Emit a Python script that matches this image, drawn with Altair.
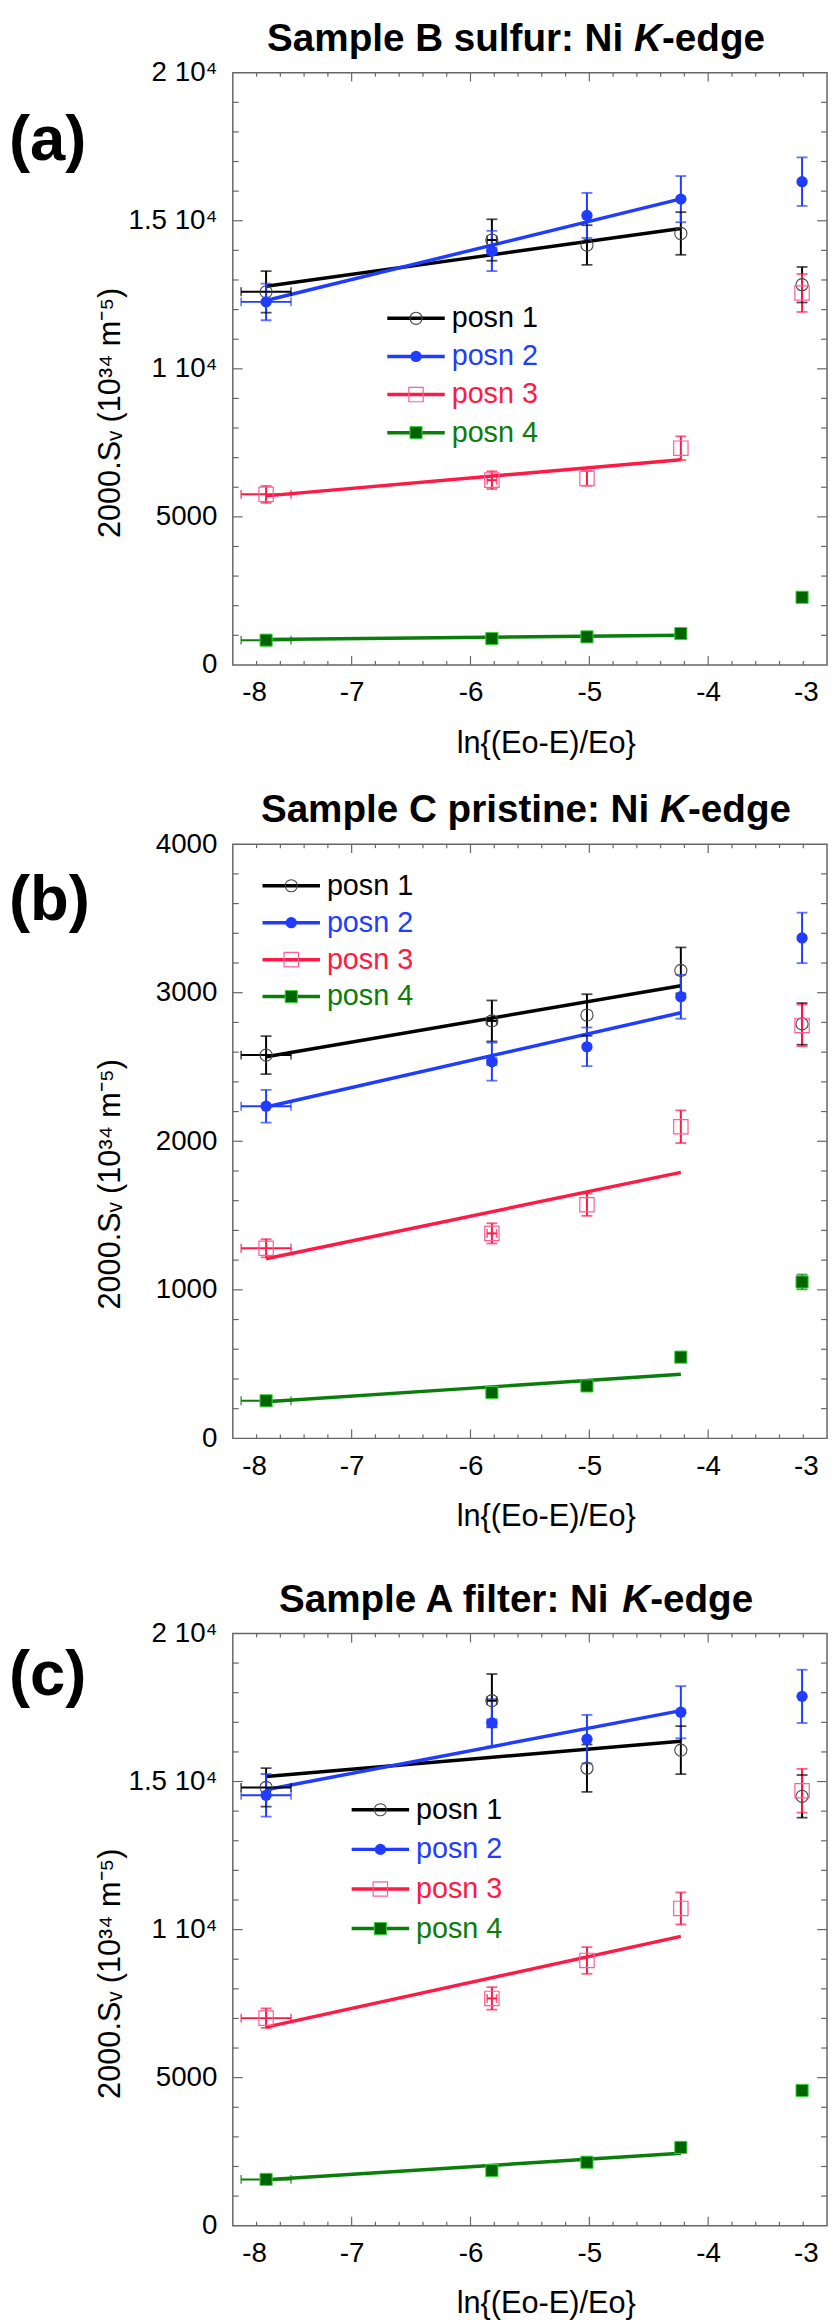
import altair as alt
import pandas as pd

FONT = "Liberation Sans"
SERIES = ["posn 1", "posn 2", "posn 3", "posn 4"]

# x positions of the five measurements, ln{(Eo-E)/Eo}
X = [-7.72, -5.82, -5.02, -4.23, -3.21]
XERR = [0.21, 0.04, 0.0, 0.0, 0.0]
FIT_X = [-7.72, -4.23]

# ---- (a) Sample B sulfur
A_POSN1 = [12600, 14350, 14180, 14570, 12840]
A_POSN1_ERR = [700, 700, 670, 720, 600]
A_POSN2 = [12260, 13980, 15180, 15730, 16320]
A_POSN2_ERR = [620, 680, 760, 780, 820]
A_POSN3 = [5760, 6240, 6300, 7320, 12560]
A_POSN3_ERR = [290, 300, 250, 400, 640]
A_POSN4 = [836, 892, 947, 1060, 2284]
A_POSN4_ERR = [40, 45, 45, 50, 110]
A_FIT_POSN1 = [12785, 14737]
A_FIT_POSN2 = [12306, 15739]
A_FIT_POSN3 = [5708, 6932]
A_FIT_POSN4 = [860, 1003]

# ---- (b) Sample C pristine
B_POSN1 = [2580, 2810, 2850, 3150, 2790]
B_POSN1_ERR = [128, 138, 140, 155, 140]
B_POSN2 = [2236, 2536, 2636, 2973, 3369]
B_POSN2_ERR = [110, 128, 130, 148, 170]
B_POSN3 = [1280, 1380, 1573, 2098, 2780]
B_POSN3_ERR = [62, 68, 75, 110, 140]
B_POSN4 = [253, 309, 353, 547, 1053]
B_POSN4_ERR = [13, 15, 17, 27, 50]
B_FIT_POSN1 = [2569, 3047]
B_FIT_POSN2 = [2231, 2865]
B_FIT_POSN3 = [1209, 1791]
B_FIT_POSN4 = [247, 431]

# ---- (c) Sample A filter
C_POSN1 = [14800, 17730, 15450, 16060, 14500]
C_POSN1_ERR = [650, 900, 800, 810, 720]
C_POSN2 = [14535, 16984, 16430, 17341, 17876]
C_POSN2_ERR = [720, 800, 820, 880, 900]
C_POSN3 = [7010, 7676, 8958, 10715, 14690]
C_POSN3_ERR = [330, 380, 450, 540, 740]
C_POSN4 = [1564, 1865, 2144, 2645, 4570]
C_POSN4_ERR = [75, 90, 105, 130, 130]
C_FIT_POSN1 = [15170, 16360]
C_FIT_POSN2 = [14724, 17396]
C_FIT_POSN3 = [6708, 9770]
C_FIT_POSN4 = [1553, 2445]

# ---- axes / ticks
X_TICK_LABELS = [-8, -7, -6, -5, -4, -3]
X_MAJOR = [-7, -6, -5, -4]
X_MINOR = [round(-8 + 0.2 * k, 1) for k in range(1, 25) if k % 5]
A_Y_LABELS = [0, 5000, 10000, 15000, 20000]
A_Y_MAJOR = [5000, 10000, 15000]
A_Y_MINOR = [v for v in range(1000, 20000, 1000) if v % 5000]
B_Y_LABELS = [0, 1000, 2000, 3000, 4000]
B_Y_MAJOR = [1000, 2000, 3000]
B_Y_MINOR = [v for v in range(200, 4000, 200) if v % 1000]

SCI_EXPR = "datum.value == 0 ? '0' : datum.value == 5000 ? '5000' : (datum.value / 10000) + ' 10\u2074'"
PLAIN_EXPR = "'' + datum.value"

X_TITLE = "ln{(Eo-E)/Eo}"
Y_TITLE = "2000.S\u1d65 (10\u00b3\u2074 m\u207b\u2075)"

LINE_COLORS = ["#000000", "#1f3cff", "#ff1a45", "#0a7d0a"]
TICK_COLOR = "#666666"

MARKER_STYLES = [
    dict(shape="circle", filled=False, size=150, strokeWidth=1.1, color="#444444"),
    dict(shape="circle", filled=True, size=130, color="#1f3cff"),
    dict(shape="square", filled=False, size=210, strokeWidth=1.2, color="#ff5c9a"),
    dict(shape="square", filled=True, size=150, fill="#006400", stroke="#3ad13a", strokeWidth=1),
]

# Arial/Liberation Sans Bold advance widths (per 1000 em) for title layout
BOLD_W = {' ': 278, 'S': 667, 'a': 556, 'm': 889, 'p': 611, 'l': 278, 'e': 556,
          'B': 722, 's': 556, 'u': 611, 'f': 333, 'r': 389, ':': 333, 'N': 722,
          'i': 278, 'C': 722, 't': 333, 'n': 611, 'A': 722, 'K': 722, '-': 333,
          'd': 611, 'g': 611}

W = 600
ONE = pd.DataFrame({"k": [0]})
LEGEND_ROWS = pd.DataFrame({"series": SERIES, "row": [0, 1, 2, 3]})


def tw(s, size):
    return sum(BOLD_W.get(c, 556) for c in s) * size / 1000.0


def panel(tag, tag_y, prefix, title_cx, H, ys, errs, fits, ydomain,
          ylabels, ymajor, yminor, label_expr, leg_x, leg_y, leg_gap):
    rows = []
    for s, yv, ev in zip(SERIES, ys, errs):
        for xv, xe, y, e in zip(X, XERR, yv, ev):
            rows.append(dict(series=s, x=xv, y=y, ylo=y - e, yhi=y + e,
                             xlo=xv - xe, xhi=xv + xe, xerr=xe))
    pts = pd.DataFrame(rows)
    fit = pd.DataFrame([dict(series=s, x=fx, y=fy)
                        for s, f in zip(SERIES, fits) for fx, fy in zip(FIT_X, f)])

    xs = alt.Scale(domain=[-8, -3], nice=False, zero=False)
    ysc = alt.Scale(domain=ydomain, nice=False, zero=False)
    color = alt.Color("series:N", scale=alt.Scale(domain=SERIES, range=LINE_COLORS), legend=None)

    x_axis = alt.Axis(values=X_TICK_LABELS, labelExpr=PLAIN_EXPR, ticks=False, tickSize=0,
                      domain=False, grid=False, labelFlush=True, labelFlushOffset=-9,
                      labelPadding=36, labelBaseline="alphabetic", labelFont=FONT,
                      labelFontSize=28, labelColor="black", title=X_TITLE, titleFont=FONT,
                      titleFontSize=31, titleFontWeight="normal", titleColor="black",
                      titleX=316, titleY=88, titleBaseline="alphabetic", titleAlign="center")
    y_axis = alt.Axis(values=ylabels, labelExpr=label_expr, ticks=False, tickSize=0,
                      domain=False, grid=False, labelFlush=False, labelPadding=16,
                      labelFont=FONT, labelFontSize=28, labelColor="black",
                      labelBaseline="middle", title=Y_TITLE, titleFont=FONT,
                      titleFontSize=31, titleFontWeight="normal", titleColor="black",
                      titleAngle=270, titleX=-114, titleY=343, titleAlign="center",
                      titleBaseline="alphabetic")

    def xf(f):
        return alt.X(f, scale=xs, axis=x_axis, title=X_TITLE)

    def yf(f):
        return alt.Y(f, scale=ysc, axis=y_axis, title=Y_TITLE)

    layers = []
    # inward ticks on all four sides
    for vals, L in ((X_MAJOR, 9), (X_MINOR, 4)):
        base = alt.Chart(pd.DataFrame({"v": vals})).mark_rule(color=TICK_COLOR, strokeWidth=1.2)
        layers.append(base.encode(x=xf("v:Q"), y=alt.value(H), y2=alt.value(H - L)))
        layers.append(base.encode(x=xf("v:Q"), y=alt.value(0), y2=alt.value(L)))
    for vals, L in ((ymajor, 10), (yminor, 6)):
        base = alt.Chart(pd.DataFrame({"v": vals})).mark_rule(color=TICK_COLOR, strokeWidth=1.2)
        layers.append(base.encode(y=yf("v:Q"), x=alt.value(0), x2=alt.value(L)))
        layers.append(base.encode(y=yf("v:Q"), x=alt.value(W), x2=alt.value(W - L)))

    # fitted lines
    layers.append(alt.Chart(fit).mark_line(strokeWidth=3.5).encode(
        x=xf("x:Q"), y=yf("y:Q"), color=color, detail="series:N"))

    # vertical error bars with caps
    layers.append(alt.Chart(pts).mark_rule(strokeWidth=2).encode(
        x=xf("x:Q"), y=yf("ylo:Q"), y2="yhi:Q", color=color))
    for f in ("ylo:Q", "yhi:Q"):
        layers.append(alt.Chart(pts).mark_tick(orient="horizontal", size=11, thickness=1.8).encode(
            x=xf("x:Q"), y=yf(f), color=color))
    # horizontal error bars with caps
    hpts = alt.Chart(pts).transform_filter("datum.xerr > 0")
    layers.append(hpts.mark_rule(strokeWidth=2).encode(
        x=xf("xlo:Q"), x2="xhi:Q", y=yf("y:Q"), color=color))
    for f in ("xlo:Q", "xhi:Q"):
        layers.append(hpts.mark_tick(orient="vertical", size=9, thickness=1.6).encode(
            x=xf(f), y=yf("y:Q"), color=color))

    # markers
    for s, st in zip(SERIES, MARKER_STYLES):
        layers.append(alt.Chart(pts).transform_filter(alt.datum.series == s)
                      .mark_point(opacity=1, **st)
                      .encode(x=xf("x:Q"), y=yf("y:Q")))

    # panel tag and title (with italic K)
    layers.append(alt.Chart(ONE).mark_text(text=tag, font=FONT, fontSize=64, fontWeight="bold",
                                           align="left", baseline="middle", color="black")
                  .encode(x=alt.value(-226), y=alt.value(tag_y)))
    F = 39
    total = tw(prefix, F) + tw("K", F) + tw("-edge", F)
    x1 = title_cx - total / 2
    x2 = x1 + tw(prefix, F)
    x3 = x2 + tw("K", F)
    for txt, xp, style in ((prefix.strip(), x1, "normal"), ("K", x2, "italic"), ("-edge", x3, "normal")):
        layers.append(alt.Chart(ONE).mark_text(text=txt, font=FONT, fontSize=F, fontWeight="bold",
                                               fontStyle=style, align="left", baseline="alphabetic",
                                               color="black")
                      .encode(x=alt.value(xp), y=alt.value(-22)))

    main = alt.layer(*layers)

    # legend: one row per series, rows placed by their own scale
    ly = alt.Y("row:Q", scale=alt.Scale(domain=[0, 3], range=[leg_y, leg_y + 3 * leg_gap]), axis=None)
    leg_layers = [alt.Chart(LEGEND_ROWS).mark_rule(strokeWidth=3.5).encode(
        x=alt.value(leg_x), x2=alt.value(leg_x + 58), y=ly, color=color)]
    for s, st in zip(SERIES, MARKER_STYLES):
        leg_layers.append(alt.Chart(LEGEND_ROWS).transform_filter(alt.datum.series == s)
                          .mark_point(opacity=1, **st)
                          .encode(x=alt.value(leg_x + 29), y=ly))
    leg_layers.append(alt.Chart(LEGEND_ROWS).mark_text(font=FONT, fontSize=29, align="left",
                                                       baseline="middle")
                      .encode(x=alt.value(leg_x + 65), y=ly, text="series:N", color=color))
    legend = alt.layer(*leg_layers)

    return alt.layer(main, legend).resolve_scale(y="independent").properties(width=W, height=H)


pa = panel("(a)", 69, "Sample B sulfur: Ni ", 286, 598,
           [A_POSN1, A_POSN2, A_POSN3, A_POSN4],
           [A_POSN1_ERR, A_POSN2_ERR, A_POSN3_ERR, A_POSN4_ERR],
           [A_FIT_POSN1, A_FIT_POSN2, A_FIT_POSN3, A_FIT_POSN4],
           [0, 20000], A_Y_LABELS, A_Y_MAJOR, A_Y_MINOR, SCI_EXPR, 156, 248, 38.5)
pb = panel("(b)", 58, "Sample C pristine: Ni ", 296, 600,
           [B_POSN1, B_POSN2, B_POSN3, B_POSN4],
           [B_POSN1_ERR, B_POSN2_ERR, B_POSN3_ERR, B_POSN4_ERR],
           [B_FIT_POSN1, B_FIT_POSN2, B_FIT_POSN3, B_FIT_POSN4],
           [0, 4000], B_Y_LABELS, B_Y_MAJOR, B_Y_MINOR, PLAIN_EXPR, 30, 42, 37.3)
pc = panel("(c)", 43, "Sample A filter: Ni ", 286, 598,
           [C_POSN1, C_POSN2, C_POSN3, C_POSN4],
           [C_POSN1_ERR, C_POSN2_ERR, C_POSN3_ERR, C_POSN4_ERR],
           [C_FIT_POSN1, C_FIT_POSN2, C_FIT_POSN3, C_FIT_POSN4],
           [0, 20000], A_Y_LABELS, A_Y_MAJOR, A_Y_MINOR, SCI_EXPR, 120, 178, 40)

inner = alt.vconcat(pb, pc, spacing=48)
chart = alt.vconcat(pa, inner, spacing=32)
chart = chart.configure_view(stroke="#666666", strokeWidth=1.5).properties(padding=0)

chart.save("out.html", embed_options={"renderer": "svg", "actions": False})
